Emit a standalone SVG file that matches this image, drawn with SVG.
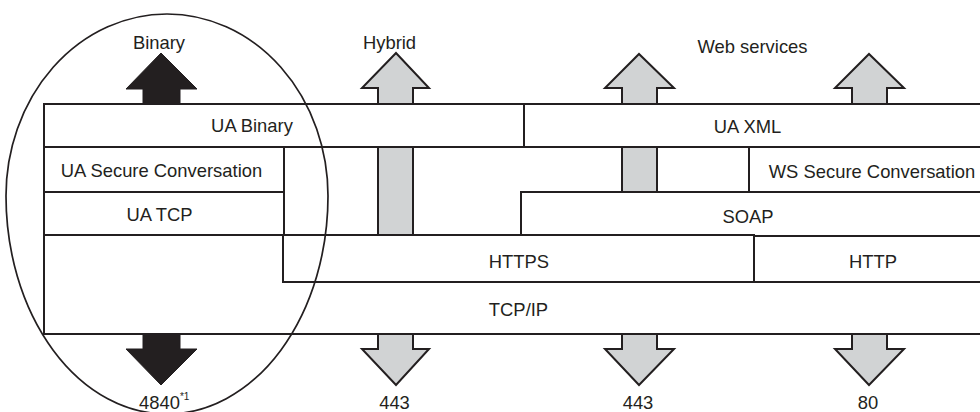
<svg xmlns="http://www.w3.org/2000/svg" width="980" height="412" viewBox="0 0 980 412">
<style>
  .box { fill: #ffffff; stroke: #231f20; stroke-width: 2; }
  .lbl { font-family: "Liberation Sans", Arial, sans-serif; font-size: 18.4px; fill: #231f20; text-anchor: middle; }
  .garrow { fill: #d1d3d4; stroke: #231f20; stroke-width: 2; stroke-linejoin: miter; }
  .barrow { fill: #231f20; stroke: #231f20; stroke-width: 1; }
  .oval { fill: none; stroke: #231f20; stroke-width: 1.7; }
</style>
<rect x="0" y="0" width="980" height="412" fill="#ffffff"/>

<g id="tcpip"><rect class="box" x="44" y="235" width="960" height="99"/><text class="lbl" x="518.5" y="316">TCP/IP</text></g>
<g id="ua-binary"><rect class="box" x="44" y="104" width="480" height="43"/><text class="lbl" x="252" y="132">UA Binary</text></g>
<g id="ua-xml"><rect class="box" x="524" y="104" width="480" height="43"/><text class="lbl" x="747.5" y="133">UA XML</text></g>
<g id="ua-secure-conversation"><rect class="box" x="44" y="147" width="240" height="45"/><text class="lbl" x="161.5" y="177">UA Secure Conversation</text></g>
<g id="ws-secure-conversation"><rect class="box" x="749" y="147" width="255" height="45"/><text class="lbl" x="872" y="178">WS Secure Conversation</text></g>
<g id="ua-tcp"><rect class="box" x="44" y="192" width="240" height="43"/><text class="lbl" x="159.5" y="221">UA TCP</text></g>
<g id="soap"><rect class="box" x="521" y="192" width="483" height="44"/><text class="lbl" x="748" y="223">SOAP</text></g>
<g id="https"><rect class="box" x="283" y="235" width="471" height="47"/><text class="lbl" x="519" y="268">HTTPS</text></g>
<g id="http"><rect class="box" x="754" y="236" width="250" height="46"/><text class="lbl" x="873" y="268">HTTP</text></g>

<g id="connectors">
  <polygon class="barrow" points="143,104 143,89 126,89 161,53 197,89 180,89 180,104"/>
  <polygon class="barrow" points="143,334 143,349 126,349 161,385 197,349 180,349 180,334"/>
  <polygon class="garrow" points="378,104 378,88 362,88 396,53 429,88 413,88 413,104"/>
  <rect class="garrow" x="378" y="147" width="35" height="88"/>
  <polygon class="garrow" points="378,334 378,349 362,349 396,385 429,349 413,349 413,334"/>
  <polygon class="garrow" points="622,104 622,88 605,88 639,54 674,88 657,88 657,104"/>
  <rect class="garrow" x="622" y="147" width="35" height="45"/>
  <polygon class="garrow" points="622,334 622,349 605,349 639,385 674,349 657,349 657,334"/>
  <polygon class="garrow" points="852,104 852,88 835,88 869,54 904,88 887,88 887,104"/>
  <polygon class="garrow" points="852,334 852,349 835,349 869,385 904,349 887,349 887,334"/>
</g>

<g id="binary-scope">
  <path class="oval" d="M6,196 A161,182 0 0 1 328,196 A161,218 0 0 1 6,196 Z"/>
</g>

<g id="labels">
  <text class="lbl" x="159" y="49">Binary</text>
  <text class="lbl" x="389.5" y="49">Hybrid</text>
  <text class="lbl" x="752.5" y="53">Web services</text>
  <text class="lbl" x="139" y="409" style="text-anchor:start">4840<tspan font-size="10" dy="-9">*1</tspan></text>
  <text class="lbl" x="394.5" y="409">443</text>
  <text class="lbl" x="638" y="409">443</text>
  <text class="lbl" x="868" y="409">80</text>
</g>
</svg>
